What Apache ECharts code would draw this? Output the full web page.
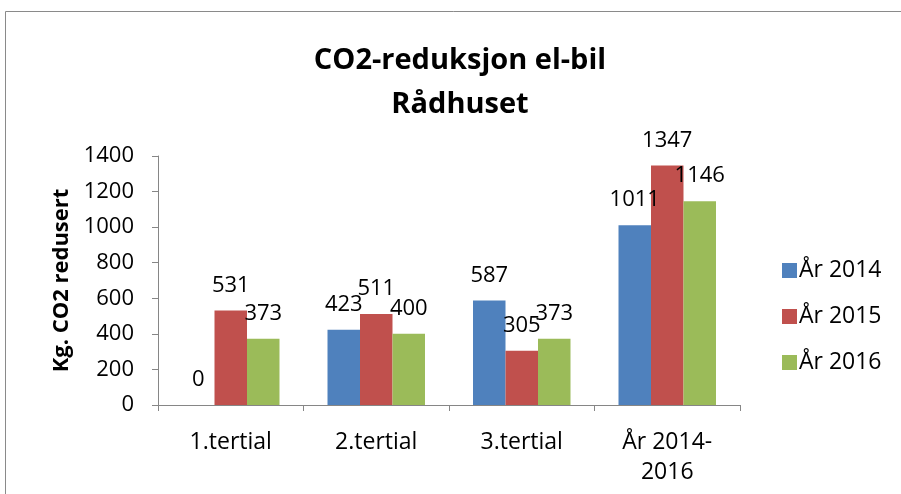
<!DOCTYPE html>
<html>
<head>
<meta charset="utf-8">
<style>
  html, body { margin: 0; padding: 0; background: #fff; }
  #chart { width: 901px; height: 494px; }
</style>
<script src="https://cdn.jsdelivr.net/npm/echarts@6/dist/echarts.min.js"></script>
</head>
<body>
<div id="chart"></div>
<script>
// CO2 reduction from the electric car at the town hall, per tertial and in total
const categories = ['1.tertial', '2.tertial', '3.tertial', 'År 2014-2016'];
const seriesNames = ['År 2014', 'År 2015', 'År 2016'];
const values2014 = [0, 423, 587, 1011];
const values2015 = [531, 511, 305, 1347];
const values2016 = [373, 400, 373, 1146];
const yTicks = [0, 200, 400, 600, 800, 1000, 1200, 1400];

const FONT = 'Open Sans';
const colors = ['#4F81BD', '#C0504D', '#9BBB59'];
const seriesData = [values2014, values2015, values2016];

const chart = echarts.init(document.getElementById('chart'));

chart.setOption({
  animation: false,
  color: colors,
  textStyle: { fontFamily: FONT },
  graphic: [{
    type: 'rect',
    shape: { x: 5.5, y: 11.5, width: 1200, height: 1200 },
    style: { fill: 'none', stroke: '#8a8a8a', lineWidth: 1 },
    silent: true
  }],
  title: {
    text: 'CO2-reduksjon el-bil\nRådhuset',
    left: 455,
    textAlign: 'center',
    top: 34,
    textStyle: {
      fontFamily: FONT,
      fontSize: 29,
      fontWeight: 'bold',
      color: '#000',
      lineHeight: 44
    }
  },
  legend: {
    orient: 'vertical',
    left: 777,
    top: 254,
    itemWidth: 15,
    itemHeight: 15,
    itemGap: 23,
    icon: 'rect',
    textStyle: { fontFamily: FONT, fontSize: 23, color: '#000', padding: [0, 0, 0, -3] },
    data: seriesNames
  },
  grid: { left: 158, right: 161, top: 156, bottom: 89, containLabel: false },
  xAxis: {
    type: 'category',
    data: categories,
    axisLine: { lineStyle: { color: '#868686', width: 1 } },
    axisTick: { show: true, length: 6, alignWithLabel: false, lineStyle: { color: '#868686' } },
    axisLabel: {
      fontFamily: FONT,
      fontSize: 23,
      color: '#000',
      margin: 22,
      lineHeight: 30,
      interval: 0,
      formatter: v => v.replace('-', '-\n')
    }
  },
  yAxis: {
    type: 'value',
    min: yTicks[0],
    max: yTicks[yTicks.length - 1],
    interval: yTicks[1] - yTicks[0],
    name: 'Kg. CO2 redusert',
    nameLocation: 'middle',
    nameGap: 80,
    nameRotate: 90,
    nameTextStyle: { fontFamily: FONT, fontSize: 22, fontWeight: 'bold', color: '#000' },
    axisLine: { show: true, lineStyle: { color: '#868686', width: 1 } },
    axisTick: { show: true, length: 6, inside: false, lineStyle: { color: '#868686' } },
    splitLine: { show: false },
    axisLabel: {
      fontFamily: FONT,
      fontSize: 22,
      color: '#000',
      margin: 24,
      formatter: v => String(v)
    }
  },
  series: seriesNames.map((name, i) => ({
    name,
    type: 'bar',
    data: seriesData[i],
    barGap: '0%',
    barCategoryGap: '33%',
    label: {
      show: true,
      position: 'top',
      distance: 14,
      fontFamily: FONT,
      fontSize: 22,
      color: '#000'
    }
  }))
});
</script>
</body>
</html>
